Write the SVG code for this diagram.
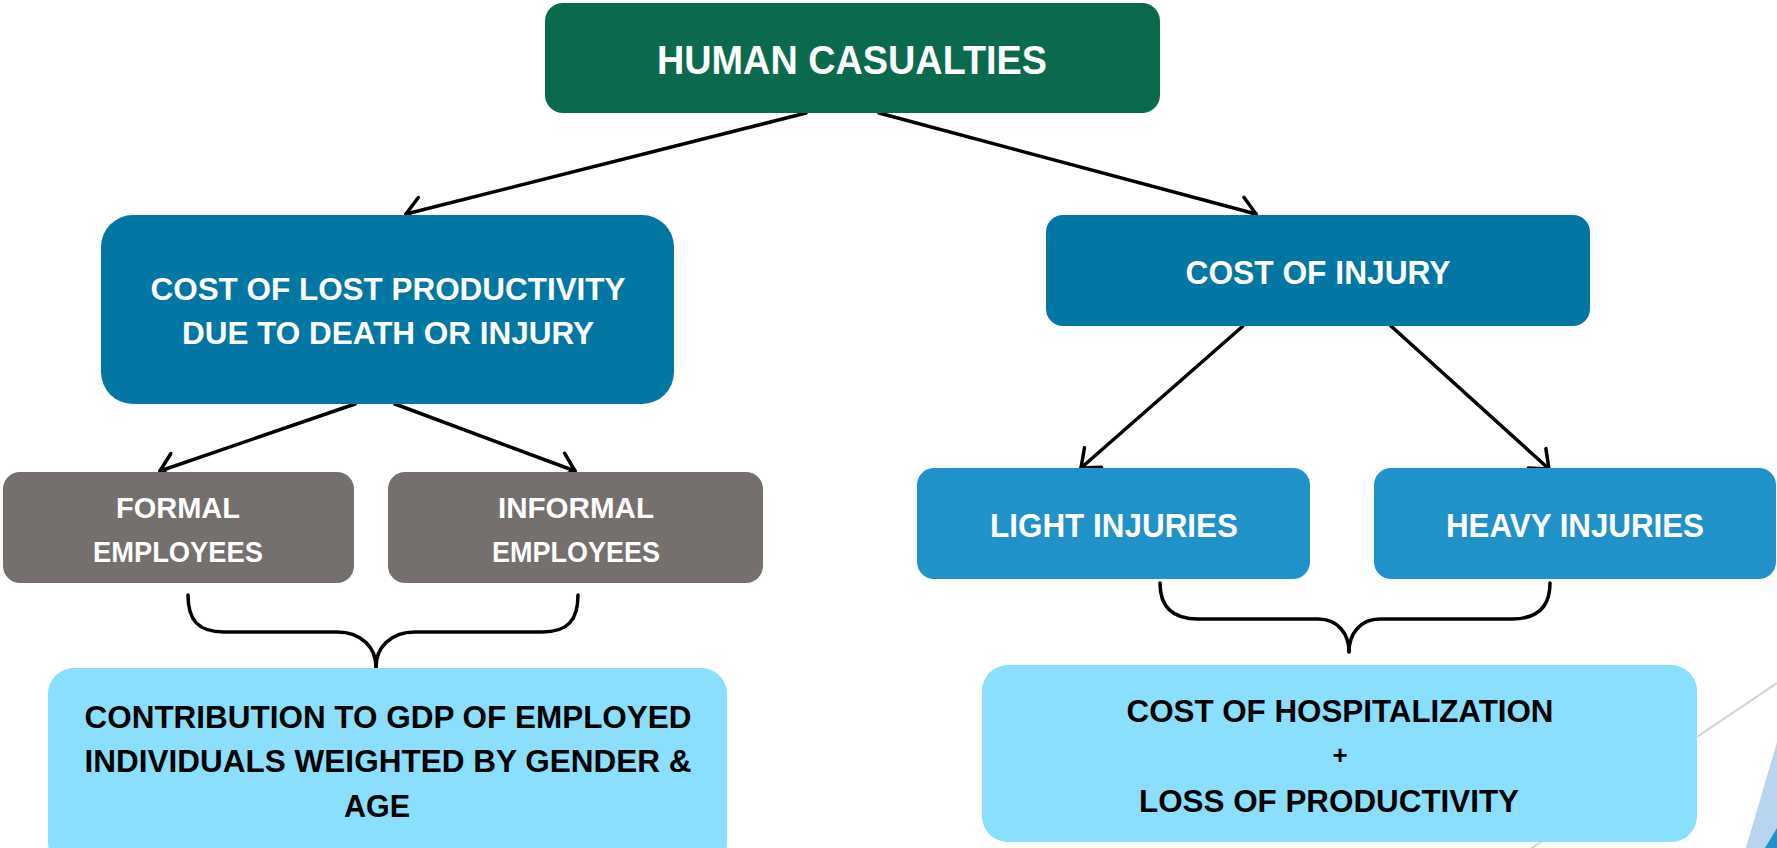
<svg xmlns="http://www.w3.org/2000/svg" width="1777" height="848" viewBox="0 0 1777 848">
<defs>
<style>
.t{font-family:"Liberation Sans",Arial,sans-serif;font-weight:bold;text-anchor:middle}
.w{fill:#ffffff}
.k{fill:#000000}
.c{fill:none;stroke:#000;stroke-width:3.5;stroke-linecap:round}
</style>
<marker id="ah" viewBox="-20 -16 24 32" markerWidth="24" markerHeight="32" refX="0" refY="0" orient="auto" markerUnits="userSpaceOnUse">
<path d="M-16,-13 L0,0 L-16,13" fill="none" stroke="#000" stroke-width="3.5" stroke-linecap="round" stroke-linejoin="round"/>
</marker>
</defs>
<rect width="1777" height="848" fill="#ffffff"/>
<g id="decor">
<line x1="1777" y1="683" x2="1520" y2="856" stroke="#d3d3d3" stroke-width="2"/>
<polygon points="1777,742 1777,848 1746,848" fill="#b8d4ee"/>
<polygon points="1777,828 1777,848 1765,848" fill="#2191c9"/>
</g>
<g id="connectors">
<line class="c" x1="806" y1="113" x2="406" y2="214" marker-end="url(#ah)"/>
<line class="c" x1="879" y1="113" x2="1256" y2="214" marker-end="url(#ah)"/>
<line class="c" x1="355" y1="404" x2="160" y2="471" marker-end="url(#ah)"/>
<line class="c" x1="395" y1="404" x2="575" y2="471" marker-end="url(#ah)"/>
<line class="c" x1="1243" y1="326" x2="1081" y2="468" marker-end="url(#ah)"/>
<line class="c" x1="1391" y1="326" x2="1549" y2="469" marker-end="url(#ah)"/>
<path class="c" d="M188,595 C188,620 198,632 224,632 L337,632 C362,632 376,648 376,667"/>
<path class="c" d="M578,595 C578,620 568,632 542,632 L415,632 C390,632 376,648 376,667"/>
<path class="c" d="M1160,583 C1160,606 1172,619 1198,619 L1318,619 C1338,619 1349,634 1349,652"/>
<path class="c" d="M1550,583 C1550,606 1538,619 1512,619 L1380,619 C1360,619 1349,634 1349,652"/>
</g>
<g id="human-casualties">
<rect x="545" y="3" width="615" height="110" rx="18" fill="#0b6a4e"/>
<text class="t w" x="852" y="74" font-size="41" textLength="390" lengthAdjust="spacingAndGlyphs">HUMAN CASUALTIES</text>
</g>
<g id="cost-lost-productivity">
<rect x="101" y="215" width="573" height="189" rx="32" fill="#0277a3"/>
<text class="t w" x="388" y="300" font-size="32" textLength="475" lengthAdjust="spacingAndGlyphs">COST OF LOST PRODUCTIVITY</text>
<text class="t w" x="388" y="344" font-size="32" textLength="412" lengthAdjust="spacingAndGlyphs">DUE TO DEATH OR INJURY</text>
</g>
<g id="cost-of-injury">
<rect x="1046" y="215" width="544" height="111" rx="17" fill="#0277a3"/>
<text class="t w" x="1318" y="284" font-size="33" textLength="265" lengthAdjust="spacingAndGlyphs">COST OF INJURY</text>
</g>
<g id="formal-employees">
<rect x="3" y="472" width="351" height="111" rx="17" fill="#75706e"/>
<text class="t w" x="178" y="518" font-size="29" textLength="124" lengthAdjust="spacingAndGlyphs">FORMAL</text>
<text class="t w" x="178" y="562" font-size="29" textLength="170" lengthAdjust="spacingAndGlyphs">EMPLOYEES</text>
</g>
<g id="informal-employees">
<rect x="388" y="472" width="375" height="111" rx="17" fill="#75706e"/>
<text class="t w" x="576" y="518" font-size="29" textLength="156" lengthAdjust="spacingAndGlyphs">INFORMAL</text>
<text class="t w" x="576" y="562" font-size="29" textLength="168" lengthAdjust="spacingAndGlyphs">EMPLOYEES</text>
</g>
<g id="light-injuries">
<rect x="917" y="468" width="393" height="111" rx="17" fill="#2191c9"/>
<text class="t w" x="1114" y="537" font-size="33" textLength="248" lengthAdjust="spacingAndGlyphs">LIGHT INJURIES</text>
</g>
<g id="heavy-injuries">
<rect x="1374" y="468" width="402" height="111" rx="17" fill="#2191c9"/>
<text class="t w" x="1575" y="537" font-size="33" textLength="258" lengthAdjust="spacingAndGlyphs">HEAVY INJURIES</text>
</g>
<g id="contribution-gdp">
<rect x="48" y="668" width="679" height="200" rx="26" fill="#89dffd"/>
<text class="t k" x="388" y="728" font-size="32" textLength="607" lengthAdjust="spacingAndGlyphs">CONTRIBUTION TO GDP OF EMPLOYED</text>
<text class="t k" x="388" y="772" font-size="32" textLength="607" lengthAdjust="spacingAndGlyphs">INDIVIDUALS WEIGHTED BY GENDER &amp;</text>
<text class="t k" x="377" y="817" font-size="32" textLength="66" lengthAdjust="spacingAndGlyphs">AGE</text>
</g>
<g id="hospitalization">
<rect x="982" y="665" width="715" height="177" rx="26" fill="#89dffd"/>
<text class="t k" x="1340" y="722" font-size="32" textLength="427" lengthAdjust="spacingAndGlyphs">COST OF HOSPITALIZATION</text>
<text class="t k" x="1340" y="764" font-size="26">+</text>
<text class="t k" x="1329" y="812" font-size="32" textLength="380" lengthAdjust="spacingAndGlyphs">LOSS OF PRODUCTIVITY</text>
</g>
</svg>
